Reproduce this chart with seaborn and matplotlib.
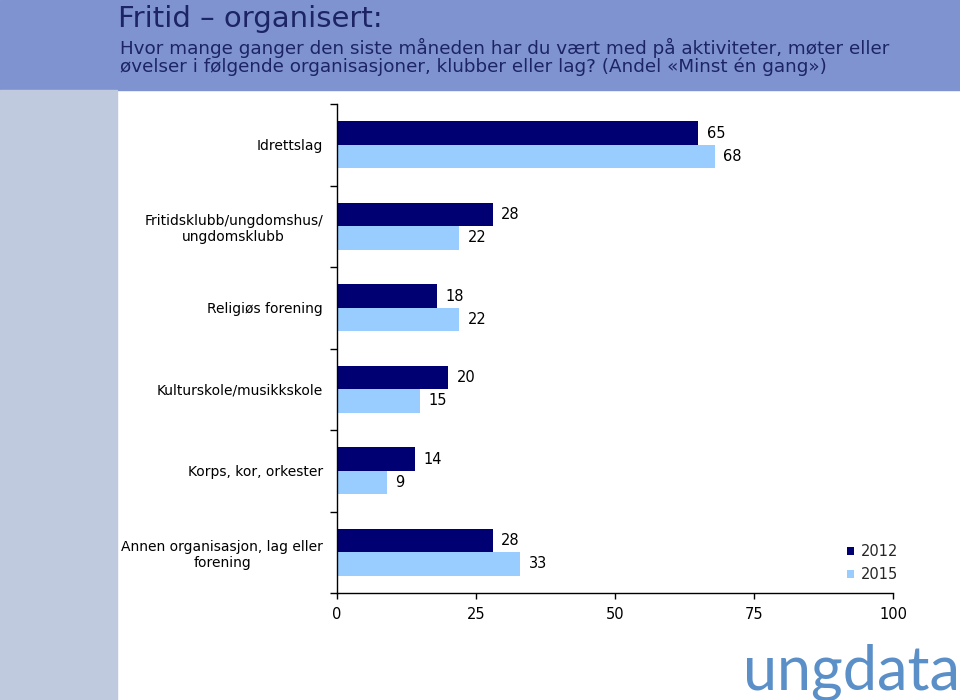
import numpy as np
import pandas as pd
import matplotlib
matplotlib.use("Agg")
import matplotlib.pyplot as plt
from matplotlib.patches import Rectangle
import seaborn as sns

# --- data ---
categories = ["Idrettslag",
              "Fritidsklubb/ungdomshus/\nungdomsklubb",
              "Religiøs forening",
              "Kulturskole/musikkskole",
              "Korps, kor, orkester",
              "Annen organisasjon, lag eller\nforening"]
values_2012 = [65, 28, 18, 20, 14, 28]
values_2015 = [68, 22, 22, 15, 9, 33]
years = ["2012", "2015"]
x_ticks = [0, 25, 50, 75, 100]

title = "Fritid – organisert:"
subtitle = ("Hvor mange ganger den siste måneden har du vært med på aktiviteter, møter eller\n"
            "øvelser i følgende organisasjoner, klubber eller lag? (Andel «Minst én gang»)")

navy = "#000073"
light = "#99ccff"
header_col = "#7f93d0"
strip_col = "#c0cadf"
text_col = "#1c2466"

df = pd.DataFrame({
    "kategori": categories * 2,
    "år": [years[0]] * len(categories) + [years[1]] * len(categories),
    "andel": values_2012 + values_2015,
})

sns.set_style("white")
plt.rcParams["font.family"] = ["DejaVu Sans"]

fig = plt.figure(figsize=(9.6, 7), dpi=100)

# background decorations
fig.patches.append(Rectangle((0, 1 - 90 / 700), 1, 90 / 700, transform=fig.transFigure,
                             color=header_col, zorder=0))
fig.patches.append(Rectangle((0, 0), 117 / 960, 1 - 90 / 700, transform=fig.transFigure,
                             color=strip_col, zorder=0))

fig.text(118 / 960, 1 - 19 / 700, title, fontsize=21, color=text_col, va="center")
fig.text(120 / 960, 1 - 57 / 700, subtitle, fontsize=13.2, color=text_col, va="center",
         linespacing=0.92)

top_px, bot_px = 104, 593
ax = fig.add_axes([337 / 960, 1 - bot_px / 700, (893 - 337) / 960, (bot_px - top_px) / 700])
sns.barplot(data=df, y="kategori", x="andel", hue="år", orient="h",
            palette=[navy, light], saturation=1, width=0.575, linewidth=0,
            ax=ax, legend=True)

for cont in ax.containers:
    ax.bar_label(cont, padding=6, fontsize=10.5, color="black")

ax.set_xlim(0, 100)
ax.set_ylim(len(categories) - 0.5, -0.5)
ax.set_xticks(x_ticks)
ax.set_xticklabels([str(t) for t in x_ticks], fontsize=10.5, color="black")
ax.tick_params(axis="x", bottom=True, direction="out", length=4, width=1,
               color="black", pad=6)

# ticks at category boundaries, labels at centers
ax.set_yticks(np.arange(len(categories) + 1) - 0.5)
ax.set_yticklabels([])
ax.tick_params(axis="y", which="major", left=True, direction="out", length=5,
               width=1, color="black")
ax.set_yticks(np.arange(len(categories)), minor=True)
ax.set_yticklabels(categories, minor=True, fontsize=10, color="black",
                   multialignment="center")
ax.tick_params(axis="y", which="minor", length=0, pad=10)

ax.set_xlabel("")
ax.set_ylabel("")
for s in ["top", "right"]:
    ax.spines[s].set_visible(False)
for s in ["left", "bottom"]:
    ax.spines[s].set_color("black")
    ax.spines[s].set_linewidth(1)
ax.grid(False)

ax.legend(loc="upper left", bbox_to_anchor=(834 / 960, 1 - 531 / 700),
          bbox_transform=fig.transFigure, frameon=False, fontsize=10.5,
          handlelength=0.5, handleheight=0.5, handletextpad=0.45, labelspacing=0.55)

fig.text(1.0, 1 - 672 / 700, "ungdata", fontsize=44, color="#5b8fc8",
         ha="right", va="center", family="Lato")

fig.savefig("out.png", dpi=100)
